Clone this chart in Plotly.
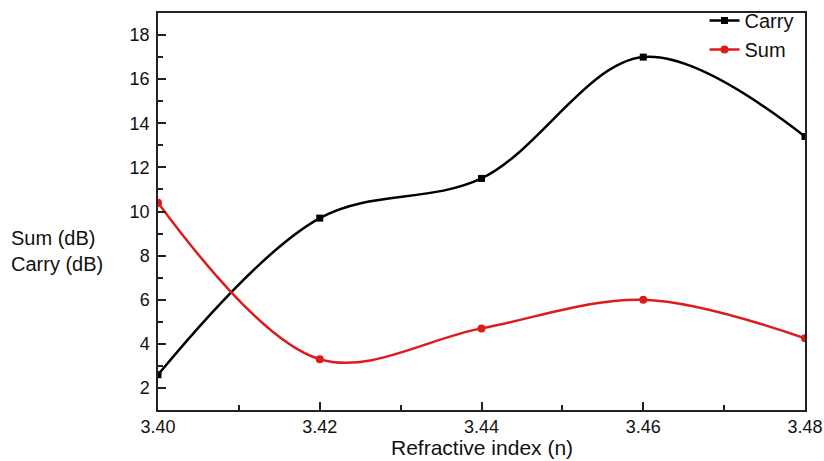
import plotly.graph_objects as go

refractive_index = [3.40, 3.42, 3.44, 3.46, 3.48]
carry_db = [2.6, 9.7, 11.5, 17.0, 13.4]
sum_db = [10.4, 3.3, 4.7, 6.0, 4.25]

font_family = "Liberation Sans, Arial, sans-serif"
red = "#e01a1a"
ink = "#111111"

fig = go.Figure()
fig.add_trace(go.Scatter(
    x=refractive_index, y=carry_db, name="Carry",
    mode="lines+markers",
    line=dict(color="black", width=2.5, shape="spline", smoothing=1),
    marker=dict(symbol="square", size=7, color="black"),
))
fig.add_trace(go.Scatter(
    x=refractive_index, y=sum_db, name="Sum",
    mode="lines+markers",
    line=dict(color=red, width=2.5, shape="spline", smoothing=1),
    marker=dict(symbol="circle", size=8, color=red),
))

L, R, T, B = 158, 19, 13, 51
W, H = 824, 461
pw = W - L - R
ph = H - T - B

fig.update_layout(
    width=W, height=H,
    margin=dict(l=L, r=R, t=T, b=B, autoexpand=False),
    paper_bgcolor="white", plot_bgcolor="white",
    font=dict(family=font_family, color=ink, size=18),
    showlegend=True,
    legend=dict(
        x=0.99, y=1.03, xanchor="right", yanchor="top",
        bgcolor="rgba(0,0,0,0)", borderwidth=0,
        font=dict(size=20, family=font_family, color=ink),
        tracegroupgap=0,
    ),
    xaxis=dict(
        range=[3.40, 3.48],
        tickvals=[3.40, 3.42, 3.44, 3.46, 3.48],
        ticktext=["3.40", "3.42", "3.44", "3.46", "3.48"],
        ticks="inside", ticklen=8, tickwidth=1.5, tickcolor="#222",
        minor=dict(tickvals=[3.41, 3.43, 3.45, 3.47], ticks="inside",
                   ticklen=5, tickwidth=1.5, tickcolor="#222"),
        showline=True, linecolor="#222", linewidth=1.5, mirror=True,
        showgrid=False, zeroline=False, automargin=False,
        tickfont=dict(size=18, family=font_family, color=ink),
        ticklabelstandoff=0,
    ),
    yaxis=dict(
        range=[1, 19],
        tickvals=[2, 4, 6, 8, 10, 12, 14, 16, 18],
        ticks="inside", ticklen=8, tickwidth=1.5, tickcolor="#222",
        minor=dict(tickvals=[3, 5, 7, 9, 11, 13, 15, 17], ticks="inside",
                   ticklen=5, tickwidth=1.5, tickcolor="#222"),
        showline=True, linecolor="#222", linewidth=1.5, mirror=True,
        showgrid=False, zeroline=False, automargin=False,
        tickfont=dict(size=18, family=font_family, color=ink),
        ticklabelstandoff=3,
    ),
)

fig.add_annotation(
    text="Refractive index (n)",
    xref="paper", yref="paper",
    x=0.5, y=(H - B - 447) / ph,
    xanchor="center", yanchor="middle",
    showarrow=False,
    font=dict(size=21, family=font_family, color=ink),
)

fig.add_annotation(
    text="Sum (dB)<br>Carry (dB)",
    xref="paper", yref="paper",
    x=(9 - L) / pw, y=(H - B - 251) / ph,
    xanchor="left", yanchor="middle", align="left",
    showarrow=False,
    font=dict(size=20, family=font_family, color=ink),
)

fig.write_html("out.html")
